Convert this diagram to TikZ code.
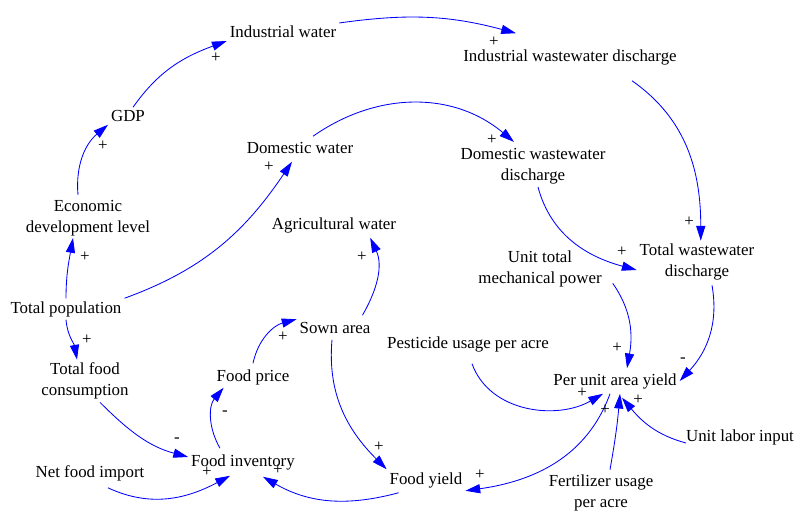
\documentclass[tikz,border=0pt]{standalone}
\usepackage{fontspec}
\setmainfont{Liberation Serif}
\usetikzlibrary{arrows.meta}
\tikzstyle{var}=[inner sep=2pt,align=center,font=\fontsize{12}{15}\selectfont]
\tikzstyle{sign}=[inner sep=0pt,font=\fontsize{12}{15}\selectfont]
\tikzstyle{link}=[draw=blue,line width=0.6pt,->]

\begin{document}
\begin{tikzpicture}[x=0.025cm,y=0.025cm,>={Triangle[length=10.5pt,width=6.5pt]}]
    \useasboundingbox (0,0) rectangle (795,-511);
    % variables
    \node[var] (iw) at (283,-32) {Industrial water};
    \node[var] (iwd) at (570,-57) {Industrial wastewater discharge};
    \node[var] (gdp) at (128,-116) {GDP};
    \node[var] (dw) at (300,-148) {Domestic water};
    \node[var] (dwd) at (533,-166) {Domestic wastewater\\discharge};
    \node[var] (edl) at (88,-218) {Economic\\development level};
    \node[var] (aw) at (334,-225) {Agricultural water};
    \node[var] (utmp) at (540,-269) {Unit total\\mechanical power};
    \node[var] (twd) at (697,-262) {Total wastewater\\discharge};
    \node[var] (tp) at (66,-309) {Total population};
    \node[var] (sa) at (335,-328) {Sown area};
    \node[var] (pua) at (468,-344) {Pesticide usage per acre};
    \node[var] (tfc) at (85,-381) {Total food\\consumption};
    \node[var] (fp) at (253,-377) {Food price};
    \node[var] (puy) at (615,-381) {Per unit area yield};
    \node[var] (uli) at (740,-437) {Unit labor input};
    \node[var] (fi) at (243,-462) {Food inventory};
    \node[var] (nfi) at (90,-473) {Net food import};
    \node[var] (fy) at (426,-480) {Food yield};
    \node[var] (fua) at (601,-493) {Fertilizer usage\\per acre};
    % links
    \draw[link] (gdp.60) to[out=55,in=200] (iw.south west);
    \draw[link] (iw.north east) to[out=8,in=165] ([shift={(-54,13)}]iwd.north);
    \draw[link] ([shift={(62,-13)}]iwd.south) to[out=-35,in=90] (twd.80);
    \draw[link] ([shift={(-10,2)}]edl.north) to[out=95,in=220] (gdp.south west);
    \draw[link] (tp.north) to[out=90,in=260] ([shift={(-15,1)}]edl.south);
    \draw[link] (tp.north east) to[out=20,in=236] ([shift={(-8,-5)}]dw.south);
    \draw[link] ([shift={(13,3)}]dw.north) to[out=35,in=140] ([shift={(-19,3)}]dwd.north);
    \draw[link] ([shift={(5,0)}]dwd.south) to[out=-75,in=165] ([shift={(0,-8)}]twd.west);
    \draw[link] (tp.south) to[out=-85,in=100] ([shift={(-8,0)}]tfc.north);
    \draw[link] ([shift={(15,0)}]tfc.south) to[out=-45,in=165] ([shift={(0,5)}]fi.west);
    \draw[link] ([shift={(18,-4)}]nfi.south) to[out=-25,in=208] ([shift={(-13,-3)}]fi.south);
    \draw[link] ([shift={(-23,3)}]fi.north) to[out=120,in=230] ([shift={(10,0)}]fp.south west);
    \draw[link] ([shift={(0,3)}]fp.north) to[out=78,in=195] (sa.north west);
    \draw[link] ([shift={(-11,4)}]sa.north east) to[out=60,in=-65] ([shift={(-29,-2)}]aw.south east);
    \draw[link] ([shift={(-3,-3)}]sa.south) to[out=-95,in=135] (fy.north west);
    \draw[link] ([shift={(12,-2)}]fy.south west) to[out=195,in=-30] ([shift={(20,-4)}]fi.south);
    \draw[link] ([shift={(-5,-2)}]puy.south) to[out=250,in=8] (fy.south east);
    \draw[link] ([shift={(8,7)}]utmp.south east) to[out=-55,in=80] ([shift={(12,2)}]puy.north);
    \draw[link] ([shift={(15,-2)}]twd.south) to[out=-80,in=47] (puy.east);
    \draw[link] ([shift={(4,-9)}]pua.south) to[out=-70,in=210] ([shift={(-12,-2)}]puy.south);
    \draw[link] ([shift={(9,2)}]fua.north) to[out=80,in=265] ([shift={(5,-2)}]puy.south);
    \draw[link] ([shift={(3,-6)}]uli.west) to[out=165,in=-50] ([shift={(7,-6)}]puy.south);
    % polarities
    \node[sign] (p1) at (216,-58) {+};
    \node[sign] (p2) at (494,-42) {+};
    \node[sign] (p3) at (689,-222) {+};
    \node[sign] (p4) at (103,-146) {+};
    \node[sign] (p5) at (85,-257) {+};
    \node[sign] (p6) at (269,-167) {+};
    \node[sign] (p7) at (492,-140) {+};
    \node[sign] (p8) at (622,-252) {+};
    \node[sign] (p9) at (87,-340) {+};
    \node[sign] (p10) at (177,-440) {-};
    \node[sign] (p11) at (207,-472) {+};
    \node[sign] (p12) at (225,-413) {-};
    \node[sign] (p13) at (283,-337) {+};
    \node[sign] (p14) at (362,-257) {+};
    \node[sign] (p15) at (379,-447) {+};
    \node[sign] (p16) at (278,-470) {+};
    \node[sign] (p17) at (480,-475) {+};
    \node[sign] (p18) at (617,-348) {+};
    \node[sign] (p19) at (683,-360) {-};
    \node[sign] (p20) at (582,-393) {+};
    \node[sign] (p21) at (605,-410) {+};
    \node[sign] (p22) at (638,-400) {+};
\end{tikzpicture}
\end{document}
